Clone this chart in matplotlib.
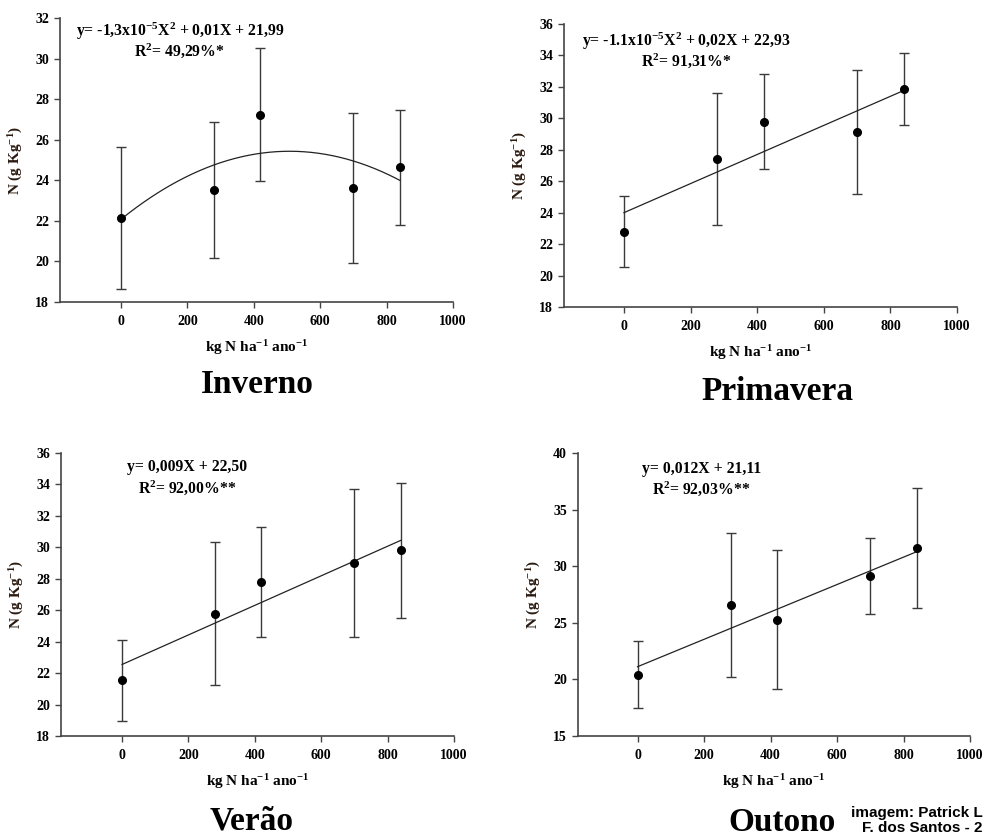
import numpy as np
import matplotlib
matplotlib.use("Agg")
import matplotlib.pyplot as plt

plt.rcParams['font.family'] = ['Liberation Serif', 'DejaVu Serif']
plt.rcParams['font.weight'] = 'bold'
plt.rcParams['mathtext.fontset'] = 'custom'
plt.rcParams['mathtext.rm'] = 'Liberation Serif:bold'
plt.rcParams['mathtext.bf'] = 'Liberation Serif:bold'
plt.rcParams['mathtext.it'] = 'Liberation Serif:bold'

# ---------------- data ----------------
doses = [0, 280, 420, 700, 840]

inverno_mean = [22.14, 23.51, 27.24, 23.64, 24.64]
inverno_err = [3.51, 3.35, 3.26, 3.70, 2.82]
inverno_fit = [-1.3e-5, 0.0132, 22.08]   # a, b, c of fitted curve

primavera_mean = [22.80, 27.41, 29.78, 29.12, 31.88]
primavera_err = [2.23, 4.20, 3.03, 3.96, 2.30]
primavera_fit = [0.0, 0.00925, 24.00]

verao_mean = [21.55, 25.79, 27.79, 29.02, 29.80]
verao_err = [2.57, 4.56, 3.52, 4.71, 4.30]
verao_fit = [0.0, 0.0094, 22.55]

outono_mean = [20.42, 26.56, 25.29, 29.15, 31.65]
outono_err = [2.94, 6.37, 6.15, 3.38, 5.30]
outono_fit = [0.0, 0.0121, 21.12]

titles = ["Inverno", "Primavera", "Verão", "Outono"]
equations = [r"y= -1,3x10$^{-5}$X$^{2}$ + 0,01X + 21,99",
             r"y= -1.1x10$^{-5}$X$^{2}$ + 0,02X + 22,93",
             "y= 0,009X + 22,50",
             "y= 0,012X + 21,11"]
r2_texts = [r"R$^{2}$= 49,29%*", r"R$^{2}$= 91,31%*",
            r"R$^{2}$= 92,00%**", r"R$^{2}$= 92,03%**"]
ylims = [(18, 32), (18, 36), (18, 36), (15, 40)]
yticks = [np.arange(18, 33, 2), np.arange(18, 37, 2),
          np.arange(18, 37, 2), np.arange(15, 41, 5)]
xticks = [0, 200, 400, 600, 800, 1000]

means = [inverno_mean, primavera_mean, verao_mean, outono_mean]
errs = [inverno_err, primavera_err, verao_err, outono_err]
fits = [inverno_fit, primavera_fit, verao_fit, outono_fit]

# ---------------- layout (pixels) ----------------
W, H = 983, 839
fig = plt.figure(figsize=(W / 100, H / 100), dpi=100)

boxes = [(60, 453, 18, 302), (564, 957, 24, 307),
         (61, 454, 453, 736), (578, 970, 453, 736)]
eq_pos = [(0.305, 0.954, 0.884), (0.312, 0.937, 0.869),
          (0.322, 0.949, 0.877), (0.315, 0.942, 0.873)]
title_pos = [(257, 393, 'baseline'), (777, 400, 'baseline'),
             (252, 830, 'baseline'), (782, 838, 'bottom')]
xleft = [-184, -180, -184, -179]

for i in range(4):
    l, r, t, b = boxes[i]
    ax = fig.add_axes([l / W, 1 - b / H, (r - l) / W, (b - t) / H])
    x = np.array(doses, dtype=float)
    ax.errorbar(x, means[i], yerr=errs[i], fmt='none', ecolor='#3a3a3a',
                elinewidth=1.0, capsize=3.5, capthick=1.0, zorder=2)
    a, bb, c = fits[i]
    xs = np.linspace(0, 840, 200)
    ax.plot(xs, a * xs ** 2 + bb * xs + c, color='#222222', lw=0.9, zorder=3)
    ax.plot(x, means[i], 'o', color='black', ms=5.5, zorder=4)
    ax.set_xlim(xleft[i], 1000)
    ax.set_ylim(*ylims[i])
    ax.set_xticks(xticks)
    ax.set_yticks(yticks[i])
    for s in ['top', 'right']:
        ax.spines[s].set_visible(False)
    for s in ['left', 'bottom']:
        ax.spines[s].set_color('#444444')
        ax.spines[s].set_linewidth(1.2)
    ax.tick_params(direction='out', length=4, width=1.0, color='#444444',
                   labelsize=10)
    ax.tick_params(axis='x', pad=5.5)
    ax.tick_params(axis='y', pad=4)
    for lab in ax.get_xticklabels() + ax.get_yticklabels():
        lab.set_fontweight('bold')
    ax.set_xlabel(r"kg N ha$^{-1}$ ano$^{-1}$", fontsize=11, fontweight='bold',
                  labelpad=7)
    ax.set_ylabel(r"N (g Kg$^{-1}$)", fontsize=11, fontweight='bold',
                  color='#2a1a10', labelpad=7)
    ex, ey1, ey2 = eq_pos[i]
    ax.text(ex, ey1, equations[i], transform=ax.transAxes, ha='center',
            va='center', fontsize=11.3, fontweight='bold')
    ax.text(ex, ey2, r2_texts[i], transform=ax.transAxes, ha='center',
            va='center', fontsize=11.3, fontweight='bold')
    tx, ty, tva = title_pos[i]
    fig.text(tx / W, 1 - ty / H, titles[i], ha='center', va=tva,
             fontsize=24, fontweight='bold')

fig.text(851 / W, 1 - 813 / H, "imagem: Patrick L", ha='left', va='center',
         fontsize=11, fontweight='bold', family=['Liberation Sans', 'DejaVu Sans'])
fig.text(862 / W, 1 - 828 / H, "F. dos Santos - 2", ha='left', va='center',
         fontsize=11, fontweight='bold', family=['Liberation Sans', 'DejaVu Sans'])

fig.savefig("out.png", dpi=100)
